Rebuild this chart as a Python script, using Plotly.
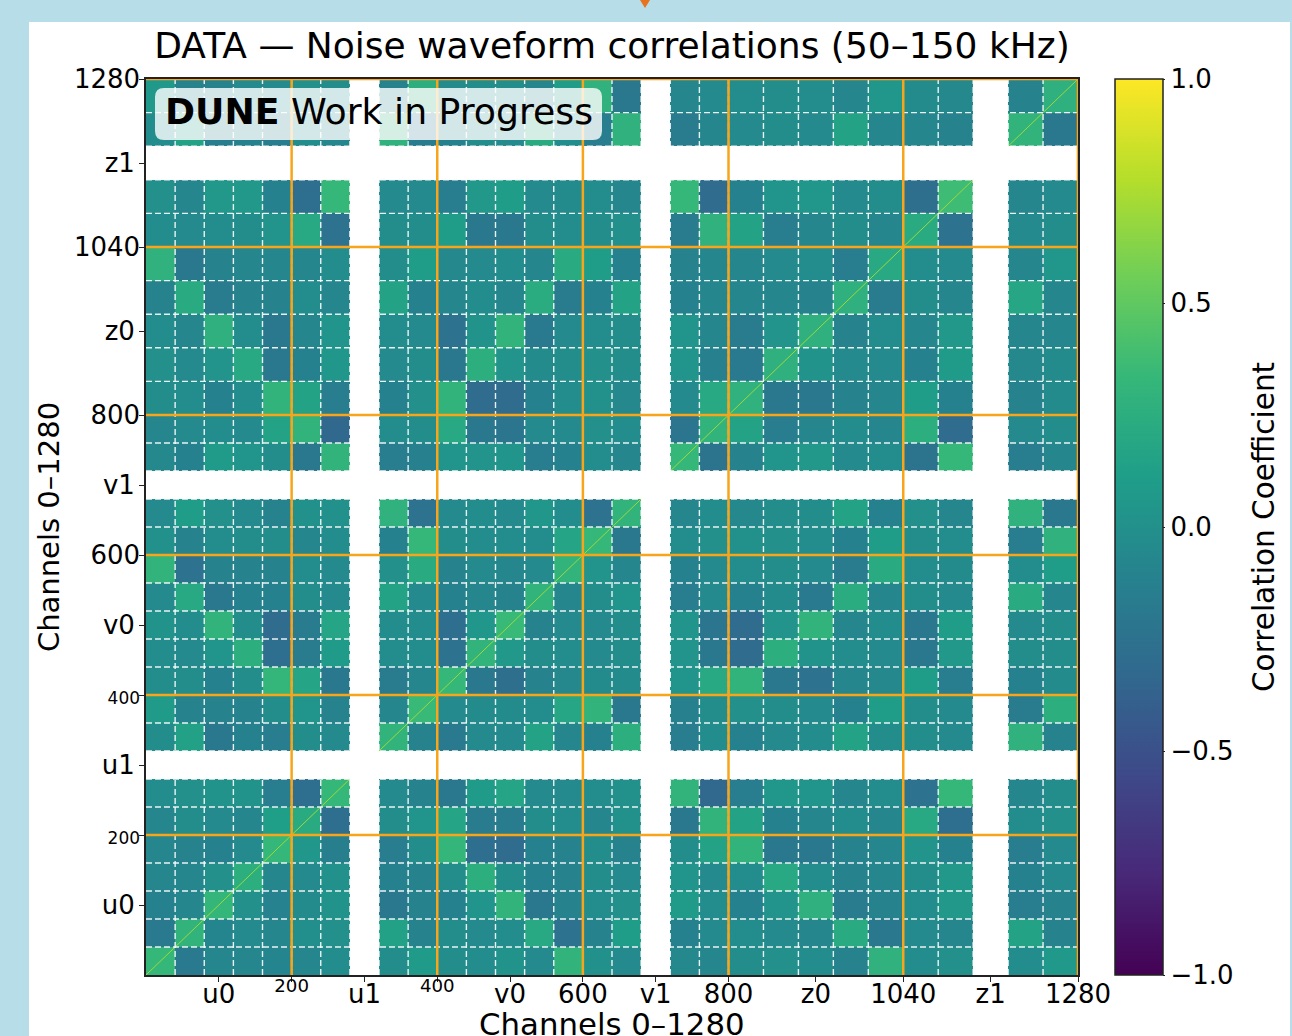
import numpy as np
import plotly.graph_objects as go

TITLE = "DATA — Noise waveform correlations (50–150 kHz)"
X_TITLE = "Channels 0–1280"
Y_TITLE = "Channels 0–1280"
CB_TITLE = "Correlation Coefficient"

# block boundaries in channels
EDGES_U = [0, 40, 80, 120, 160, 200, 240, 280]
EDGES_V = [320, 360, 400, 440, 480, 520, 560, 600, 640, 680]
EDGES_Z = [720, 760, 800, 848, 896, 944, 992, 1040, 1088, 1136]
EDGES_Z1 = [1184, 1232, 1280]

# correlation per block; rows go from low channel to high channel
UU = [
    [.33, -.18, -.08, -.07, -.09, -.07, -.03],
    [-.18, .30, -.09, -.05, -.07, -.01, 0],
    [-.12, -.08, .32, 0, -.11, -.04, .02],
    [-.07, -.07, 0, .25, -.07, -.05, .01],
    [-.08, -.10, -.12, -.05, .33, .05, -.14],
    [-.08, -.02, -.05, -.08, .12, .22, -.28],
    [-.03, 0, .02, .02, -.15, -.28, .33],
]
UV = [
    [-.02, .09, -.02, -.03, .02, -.05, .30, .01, -.05],
    [.14, -.10, -.02, -.05, -.03, .20, -.25, -.10, .10],
    [-.20, -.10, -.12, .04, .30, -.20, -.10, -.03, 0],
    [-.12, -.10, -.02, .25, -.02, -.12, -.10, -.02, -.05],
    [-.15, -.02, .32, -.28, -.30, -.12, -.10, -.02, -.10],
    [-.02, .04, .17, -.17, -.17, -.02, -.03, -.07, .01],
    [-.05, -.10, -.20, .09, .17, -.05, -.05, -.03, .01],
]
UZ = [
    [-.06, -.07, -.02, 0, -.03, -.10, .28, -.03, 0, -.03, .07],
    [-.12, -.05, -.03, -.05, -.07, .22, -.20, -.05, -.07, .15, -.10],
    [.09, -.03, -.12, .03, .27, -.17, -.10, -.03, .06, -.15, -.10],
    [.04, -.05, -.03, .20, -.03, -.10, -.08, -.02, .06, -.12, -.05],
    [-.02, .15, .30, -.20, -.20, -.10, -.07, .03, -.12, -.15, -.05],
    [-.20, .30, .15, -.12, -.07, -.03, -.07, .20, -.28, -.03, 0],
    [.30, -.33, -.15, .05, .04, -.07, -.03, -.25, .33, -.07, -.02],
]
VV = [
    [.30, -.10, -.18, -.05, -.05, .15, -.07, -.12, .25],
    [-.08, .35, -.05, -.04, -.04, -.03, .18, .30, -.20],
    [-.17, -.07, .33, -.20, -.27, -.10, -.06, -.04, -.04],
    [-.03, -.03, -.25, .30, .06, -.02, -.03, -.05, -.02],
    [-.03, -.03, -.28, .05, .35, -.10, -.05, -.05, -.02],
    [.15, -.05, -.12, -.07, -.10, .30, -.07, -.02, .04],
    [0, .22, -.10, -.05, -.07, -.05, .30, .03, -.07],
    [-.12, .33, -.02, -.03, -.03, -.03, .17, .33, -.20],
    [.28, -.25, -.05, -.03, -.05, .05, -.03, -.25, .30],
]
VZ = [
    [-.15, -.03, -.12, -.05, -.03, .15, -.02, -.02, -.05, .28, -.10],
    [-.13, -.02, 0, -.02, -.05, -.12, .10, -.02, -.05, -.17, .25],
    [.04, .20, .30, -.20, -.25, -.08, -.06, .10, -.15, -.12, -.04],
    [.03, -.20, -.30, .25, .02, -.03, -.05, -.20, .06, -.02, -.02],
    [.04, -.22, -.30, .03, .30, -.08, -.03, -.20, .10, -.05, -.02],
    [-.15, -.05, -.12, -.04, -.18, .23, -.08, -.02, -.05, .22, -.07],
    [-.12, -.05, -.03, -.02, -.05, -.17, .22, -.03, -.04, -.03, .10],
    [-.03, 0, .01, 0, -.03, -.12, .10, -.02, -.03, -.15, .28],
    [-.08, -.03, -.06, -.02, -.02, .15, -.12, 0, -.07, .28, -.20],
]
ZZ = [
    [.33, -.23, -.10, .04, .06, -.05, -.03, -.23, .33, -.15, -.07],
    [-.22, .30, .15, -.15, -.08, -.03, -.08, .25, -.30, -.05, -.02],
    [-.05, .20, .28, -.20, -.20, -.10, -.08, .10, -.12, -.10, -.04],
    [.04, -.13, -.18, .27, .02, -.05, -.05, -.12, .09, -.06, -.04],
    [.04, -.07, -.17, .03, .27, -.10, -.03, -.07, .06, -.08, -.07],
    [-.12, -.07, -.08, -.08, -.10, .27, -.17, -.02, -.07, .18, -.08],
    [-.10, -.08, -.07, -.05, -.03, -.15, .20, -.03, -.05, -.08, .05],
    [-.17, .28, .15, -.15, -.07, -.02, -.08, .22, -.25, -.05, -.02],
    [.33, -.30, -.12, .04, .05, -.05, -.02, -.27, .37, -.08, -.05],
    [-.16, -.07, -.05, -.02, -.05, .15, -.08, -.08, -.10, .30, -.20],
    [-.07, -.05, -.03, -.02, -.03, -.08, .05, -.04, -.06, -.10, .27],
]

GUIDE_CHANNELS = [200, 400, 600, 800, 1040, 1280]
DIAG_X = [0, 280, None, 320, 680, None, 720, 1136, None, 1184, 1280]
DIAG_Y = [0, 280, None, 320, 680, None, 720, 1136, None, 1184, 1280]

TICK_VALS = [100, 200, 300, 400, 500, 600, 700, 800, 920, 1040, 1160, 1280]
X_TICKS = ["u0", "<sup>200</sup>", "u1", "<sup>400</sup>", "v0", "600", "v1", "800", "z0", "1040", "z1", "1280"]
SMALL = "<span style='font-size:17px'>%s</span>"
THIN = "\u2009"
Y_TICKS = ["u0" + THIN, SMALL % "200", "u1" + THIN, SMALL % "400", "v0" + THIN, "600", "v1" + THIN, "800",
           "z0" + THIN, "1040", "z1" + THIN, "1280"]
CB_TICKS = [-1.0, -0.5, 0.0, 0.5, 1.0]

W, H = 1292, 1036
L, R, T, B = 146, 1078, 79, 975
FONT = "DejaVu Sans"


def px(x):
    return (x - L) / (R - L)


def py(y):
    return (B - y) / (B - T)


# assemble blocks, leaving the unused channel ranges empty
uu, uv, uz, vv, vz, zz = map(np.array, (UU, UV, UZ, VV, VZ, ZZ))
M = np.block([[uu, uv, uz], [uv.T, vv, vz], [uz.T, vz.T, zz]]).astype(float)
M = np.insert(M, [7, 16, 25], np.nan, axis=0)
M = np.insert(M, [7, 16, 25], np.nan, axis=1)
edges = EDGES_U + EDGES_V + EDGES_Z + EDGES_Z1

fig = go.Figure()
fig.add_trace(go.Heatmap(
    x=edges, y=edges, z=M, zmin=-1, zmax=1, colorscale="Viridis",
    hoverongaps=False,
    colorbar=dict(
        x=px(1115), xanchor="left", xpad=0, y=0.5, yanchor="middle", ypad=0,
        len=1, lenmode="fraction", thickness=48, thicknessmode="pixels",
        outlinecolor="#222", outlinewidth=1.5,
        tickvals=CB_TICKS, tickformat=".1f", ticks="outside", ticklen=2,
        tickcolor="#222", tickfont=dict(family=FONT, size=26, color="black"),
    ),
))
fig.add_trace(go.Scatter(
    x=DIAG_X, y=DIAG_Y, mode="lines", line=dict(color="#9bd93c", width=1),
    showlegend=False, hoverinfo="skip",
))

shapes = [
    dict(type="rect", xref="paper", yref="paper", x0=px(29), x1=px(1290), y0=py(22), y1=py(1040),
         fillcolor="white", line_width=0, layer="below"),
    dict(type="path", xref="paper", yref="paper", fillcolor="#e8731f", line_width=0, layer="below",
         path=f"M {px(640)} {py(0)} L {px(650)} {py(0)} L {px(645)} {py(8)} Z"),
]
for e in edges[1:-1]:
    for axis in ("v", "h"):
        s = dict(type="line", xref="x", yref="y", layer="above",
                 line=dict(color="rgba(255,255,255,0.9)", width=1.4, dash="6px,3px"))
        if axis == "v":
            s.update(x0=e, x1=e, y0=0, y1=1280)
        else:
            s.update(x0=0, x1=1280, y0=e, y1=e)
        shapes.append(s)
for g in GUIDE_CHANNELS:
    for axis in ("v", "h"):
        s = dict(type="line", xref="x", yref="y", layer="above",
                 line=dict(color="#f8a51b", width=2.5))
        if axis == "v":
            s.update(x0=g, x1=g, y0=0, y1=1280)
        else:
            s.update(x0=0, x1=1280, y0=g, y1=g)
        shapes.append(s)

# rounded label box
x0, x1, y0, y1 = 155, 602, 88, 140
r = 9
box = (f"M {px(x0+r)} {py(y0)} L {px(x1-r)} {py(y0)} Q {px(x1)} {py(y0)} {px(x1)} {py(y0+r)} "
       f"L {px(x1)} {py(y1-r)} Q {px(x1)} {py(y1)} {px(x1-r)} {py(y1)} "
       f"L {px(x0+r)} {py(y1)} Q {px(x0)} {py(y1)} {px(x0)} {py(y1-r)} "
       f"L {px(x0)} {py(y0+r)} Q {px(x0)} {py(y0)} {px(x0+r)} {py(y0)} Z")
shapes.append(dict(type="path", xref="paper", yref="paper", path=box, layer="above",
                   fillcolor="rgba(255,255,255,0.8)", line_width=0))

axis_style = dict(
    range=[0, 1280], tickmode="array", tickvals=TICK_VALS, ticks="outside", ticklen=5,
    tickcolor="#222", showgrid=False, zeroline=False, showline=True, linecolor="#222",
    linewidth=1.5, mirror=True, tickangle=0, automargin=False,
    tickfont=dict(family=FONT, size=26, color="black"),
)
fig.update_layout(
    width=W, height=H, autosize=False,
    margin=dict(l=L, r=W - R, t=T, b=H - B, pad=0),
    paper_bgcolor="#b7dde8", plot_bgcolor="white",
    font=dict(family=FONT, color="black"),
    shapes=shapes,
    title=dict(text=TITLE, font=dict(family=FONT, size=36, color="black"),
               x=px(612), xref="paper", xanchor="center", y=1 - 45 / H, yanchor="middle"),
    xaxis=dict(axis_style, ticktext=X_TICKS, ticklabelstandoff=-10),
    yaxis=dict(axis_style, ticktext=Y_TICKS, ticklabelstandoff=-6,
               title=dict(text=Y_TITLE, font=dict(family=FONT, size=29, color="black"), standoff=6)),
    annotations=[
        dict(text="<b>DUNE</b> Work in Progress", xref="paper", yref="paper",
             x=px(163), y=py(112), xanchor="left", yanchor="middle", showarrow=False,
             font=dict(family=FONT, size=36.2, color="black")),
        dict(text=CB_TITLE, xref="paper", yref="paper", x=px(1264), y=py(527),
             xanchor="center", yanchor="middle", textangle=-90, showarrow=False,
             font=dict(family=FONT, size=29.5, color="black")),
        dict(text=X_TITLE, xref="paper", yref="paper", x=px(612), y=py(1024),
             xanchor="center", yanchor="middle", showarrow=False,
             font=dict(family=FONT, size=30.8, color="black")),
    ],
)
fig.write_html("out.html", config={"displayModeBar": False},
               post_script="document.body.style.margin='0';document.body.style.overflow='hidden';")
